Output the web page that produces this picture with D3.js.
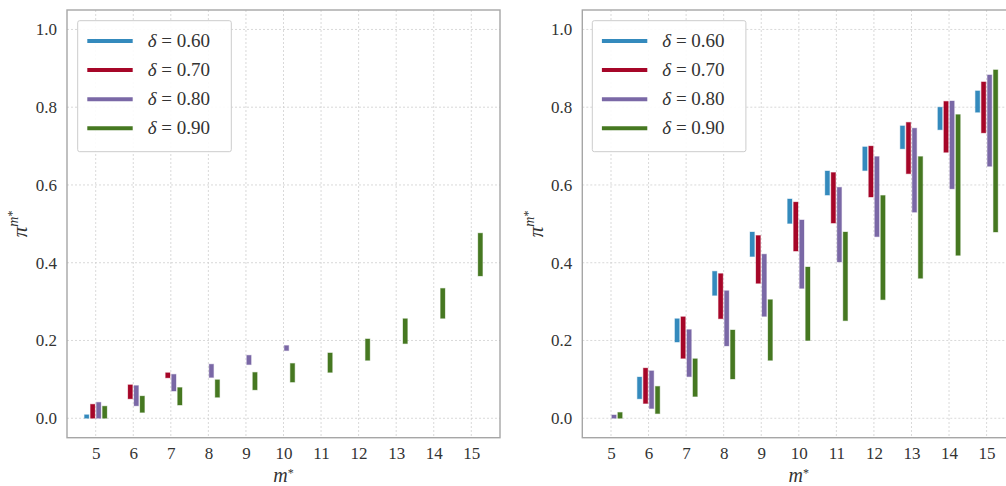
<!DOCTYPE html>
<html>
<head>
<meta charset="utf-8">
<script src="https://cdn.jsdelivr.net/npm/d3@7"></script>
<style>
html,body{margin:0;padding:0;background:#fff;}
svg{display:block;}
text{font-family:"Liberation Serif","DejaVu Serif",serif;fill:#333;}
</style>
</head>
<body>
<svg id="chart" width="1006" height="486"></svg>
<script>
// ---- data ----
const mValues = [5,6,7,8,9,10,11,12,13,14,15];
const deltaLabels = ["0.60","0.70","0.80","0.90"];
const seriesColors = ["#348ABD","#A60628","#7A68A6","#467821"];
const xTickLabels = ["5","6","7","8","9","10","11","12","13","14","15"];
const yTickLabels = ["0.0","0.2","0.4","0.6","0.8","1.0"];

// Left panel: [low, high] per m (null = absent)
const left_d060 = [[0,0.009],null,null,null,null,null,null,null,null,null,null];
const left_d070 = [[0,0.036],[0.050,0.086],[0.104,0.117],null,null,null,null,null,null,null,null];
const left_d080 = [[0,0.041],[0.032,0.084],[0.070,0.113],[0.105,0.139],[0.138,0.162],[0.174,0.187],null,null,null,null,null];
const left_d090 = [[0,0.031],[0.015,0.057],[0.034,0.079],[0.054,0.099],[0.073,0.118],[0.093,0.141],[0.118,0.168],[0.149,0.204],[0.192,0.256],[0.257,0.334],[0.366,0.476]];

// Right panel
const right_d060 = [null,[0.050,0.106],[0.196,0.256],[0.316,0.378],[0.416,0.479],[0.501,0.564],[0.574,0.636],[0.637,0.698],[0.693,0.752],[0.742,0.800],[0.787,0.842]];
const right_d070 = [null,[0.038,0.129],[0.154,0.261],[0.256,0.372],[0.347,0.470],[0.430,0.556],[0.502,0.632],[0.569,0.700],[0.629,0.761],[0.684,0.815],[0.734,0.865]];
const right_d080 = [[0,0.0085],[0.025,0.122],[0.107,0.228],[0.186,0.328],[0.262,0.422],[0.334,0.510],[0.402,0.594],[0.467,0.673],[0.530,0.746],[0.590,0.816],[0.648,0.883]];
const right_d090 = [[0,0.015],[0.012,0.082],[0.056,0.153],[0.101,0.227],[0.149,0.305],[0.200,0.389],[0.251,0.479],[0.305,0.573],[0.360,0.673],[0.419,0.781],[0.479,0.896]];

const offsets = [-0.24,-0.08,0.08,0.24];

// ---- drawing ----
const svg = d3.select("#chart");
const plotTop = 10, plotBottom = 437.7;
const panels = [
  {x0:67, x1:500, series:[left_d060,left_d070,left_d080,left_d090], ylabX:17, legX:77.7},
  {x0:582.3, x1:1015.3, series:[right_d060,right_d070,right_d080,right_d090], ylabX:533, legX:592.3}
];

const y = d3.scaleLinear().domain([-0.05,1.05]).range([plotBottom, plotTop]);
const yTicks = yTickLabels.map(Number);

panels.forEach(p => {
  const x = d3.scaleLinear().domain([4.236,15.764]).range([p.x0, p.x1]);
  const g = svg.append("g");
  // grid
  g.append("g").selectAll("line").data(yTicks).join("line")
    .attr("x1",p.x0).attr("x2",p.x1).attr("y1",d=>y(d)).attr("y2",d=>y(d))
    .attr("stroke","#cfcfcf").attr("stroke-width",0.8).attr("stroke-dasharray","2,2");
  g.append("g").selectAll("line").data(mValues).join("line")
    .attr("x1",d=>x(d)).attr("x2",d=>x(d)).attr("y1",plotTop).attr("y2",plotBottom)
    .attr("stroke","#cfcfcf").attr("stroke-width",0.8).attr("stroke-dasharray","2,2");
  // axes (no tick marks)
  const xAxis = d3.axisBottom(x).tickValues(mValues).tickFormat((d,i)=>xTickLabels[i]).tickSize(0).tickPadding(9);
  const yAxis = d3.axisLeft(y).tickValues(yTicks).tickFormat((d,i)=>yTickLabels[i]).tickSize(0).tickPadding(10);
  const gx = g.append("g").attr("transform",`translate(0,${plotBottom})`).call(xAxis);
  const gy = g.append("g").attr("transform",`translate(${p.x0},0)`).call(yAxis);
  [gx,gy].forEach(a=>{
    a.select(".domain").remove();
    a.selectAll("text").attr("font-family","Liberation Serif, serif").attr("font-size",17).attr("fill","#333");
  });
  // bars
  p.series.forEach((s,si)=>{
    g.append("g").selectAll("rect").data(mValues.map((m,i)=>({m, v:s[i]})).filter(d=>d.v))
      .join("rect")
      .attr("x",d=>x(d.m+offsets[si])-2.2)
      .attr("width",4.4)
      .attr("y",d=>y(d.v[1]))
      .attr("height",d=>Math.max(1.5, y(d.v[0])-y(d.v[1])))
      .attr("fill",seriesColors[si])
      .attr("stroke",seriesColors[si]).attr("stroke-opacity",0.35).attr("stroke-width",1);
  });
  // frame
  g.append("rect").attr("x",p.x0).attr("y",plotTop).attr("width",p.x1-p.x0).attr("height",plotBottom-plotTop)
    .attr("fill","none").attr("stroke","#a6a6a6").attr("stroke-width",1.4);
  // axis labels
  const cx = (p.x0 + p.x1)/2;
  const xl = g.append("text").attr("x",cx).attr("y",481.5).attr("text-anchor","middle").attr("font-size",20);
  xl.append("tspan").attr("font-style","italic").text("m");
  xl.append("tspan").attr("dy",-5).attr("font-size",12).text("*");
  const yl = g.append("text").attr("transform",`translate(${p.ylabX+10},${(plotTop+plotBottom)/2}) rotate(-90)`)
    .attr("text-anchor","middle").attr("font-size",21);
  yl.append("tspan").attr("font-style","italic").text("π");
  yl.append("tspan").attr("dy",-9).attr("font-size",14).attr("font-style","italic").text("m");
  yl.append("tspan").attr("font-size",12).attr("dy",-2).text("*");
  // legend
  const lg = g.append("g").attr("transform",`translate(${p.legX},20.7)`);
  lg.append("rect").attr("width",153.6).attr("height",131).attr("rx",2)
    .attr("fill","#fff").attr("fill-opacity",0.9).attr("stroke","#cccccc").attr("stroke-width",1);
  deltaLabels.forEach((lab,i)=>{
    const ly = 20.3 + i*29.1;
    lg.append("line").attr("x1",9.6).attr("x2",55).attr("y1",ly).attr("y2",ly)
      .attr("stroke",seriesColors[i]).attr("stroke-width",4);
    const t = lg.append("text").attr("x",70).attr("y",ly+6).attr("font-size",19);
    t.append("tspan").attr("font-style","italic").text("δ");
    t.append("tspan").text(" = " + lab);
  });
});
</script>
</body>
</html>
